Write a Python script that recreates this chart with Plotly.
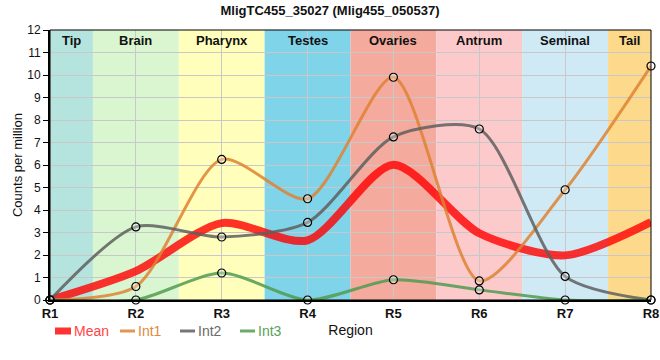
import plotly.graph_objects as go

regions = ["R1", "R2", "R3", "R4", "R5", "R6", "R7", "R8"]
tissues = ["Tip", "Brain", "Pharynx", "Testes", "Ovaries", "Antrum", "Seminal", "Tail"]
tissue_colors = ["#b5e3dd", "#d9f6d0", "#ffffbb", "#7fd4ea", "#f4aa9c", "#fdcacc", "#cfeaf5", "#fdd98b"]
int1 = [0, 0.6, 6.25, 4.5, 9.9, 0.85, 4.9, 10.4]
int2 = [0, 3.25, 2.8, 3.45, 7.25, 7.6, 1.05, 0]
int3 = [0, 0, 1.2, 0, 0.9, 0.45, 0, 0]
mean = [(a + b + c) / 3 for a, b, c in zip(int1, int2, int3)]

W, H = 660, 360
ML, MR, MT, MB = 50, 9, 30, 60
PW, PH = W - ML - MR, H - MT - MB


def px(x):
    return (x - ML) / PW


def py(y):
    return (H - MB - y) / PH


xs = list(range(1, len(regions) + 1))
fig = go.Figure()

shapes = []
for i, c in enumerate(tissue_colors):
    x0 = max(1, xs[i] - 0.5)
    x1 = min(len(xs), xs[i] + 0.5)
    shapes.append(dict(type="rect", xref="x", yref="paper", x0=x0, x1=x1, y0=0, y1=1,
                       fillcolor=c, line=dict(width=0), layer="below"))

annotations = []
for i, t in enumerate(tissues):
    x0 = max(1, xs[i] - 0.5)
    x1 = min(len(xs), xs[i] + 0.5)
    annotations.append(dict(x=(x0 + x1) / 2, y=12, xref="x", yref="y", text="<b>" + t + "</b>",
                            showarrow=False, yanchor="top", yshift=-1,
                            font=dict(size=13, color="#111", family="Liberation Sans, Arial")))

SM = 0.75
fig.add_trace(go.Scatter(x=xs, y=mean, mode="lines", name="Mean", showlegend=False,
                         line=dict(color="rgba(255,0,0,0.8)", width=8, shape="spline", smoothing=SM),
                         cliponaxis=True))
series = [("Int1", int1, "rgba(222,130,50,0.85)", "#e0893f"),
          ("Int2", int2, "rgba(95,95,95,0.85)", "#6a6a6a"),
          ("Int3", int3, "rgba(80,155,80,0.85)", "#5aa05a")]
for name, vals, col, tcol in series:
    fig.add_trace(go.Scatter(x=xs, y=vals, mode="lines", name=name, showlegend=False,
                             line=dict(color=col, width=3, shape="spline", smoothing=SM),
                             cliponaxis=True))
for name, vals, col, tcol in series:
    fig.add_trace(go.Scatter(x=xs, y=vals, mode="markers", name=name, showlegend=False,
                             marker=dict(size=8, color="rgba(255,255,255,0.3)",
                                         line=dict(color="black", width=1.2)),
                             cliponaxis=False))

# legend drawn as shapes + text below the axis
leg_y = 331
legend_items = [("Mean", "rgba(255,0,0,0.8)", "#ff4444", 7, 55, 71, 74),
                ("Int1", series[0][2], series[0][3], 3, 120, 135, 138),
                ("Int2", series[1][2], series[1][3], 3, 180, 195, 198),
                ("Int3", series[2][2], series[2][3], 3, 240, 255, 258)]
for name, col, tcol, lw, sx0, sx1, tx in legend_items:
    shapes.append(dict(type="line", xref="paper", yref="paper", x0=px(sx0), x1=px(sx1),
                       y0=py(leg_y), y1=py(leg_y), line=dict(color=col, width=lw), layer="above"))
    annotations.append(dict(x=px(tx), y=py(leg_y), xref="paper", yref="paper", text=name,
                            showarrow=False, xanchor="left", yanchor="middle", xshift=-2,
                            font=dict(size=14, color=tcol, family="Liberation Sans, Arial")))

fig.update_layout(
    width=W, height=H,
    margin=dict(l=ML, r=MR, t=MT, b=MB, autoexpand=False),
    paper_bgcolor="white", plot_bgcolor="rgba(0,0,0,0)",
    font=dict(family="Liberation Sans, Arial", size=12, color="#111"),
    title=dict(text="<b>MligTC455_35027 (Mlig455_050537)</b>", x=0.5, xanchor="center",
               y=0.985, yanchor="top", font=dict(size=13)),
    shapes=shapes + [dict(type="rect", xref="paper", yref="paper", x0=0, x1=1, y0=0, y1=1,
                          line=dict(color="black", width=1), layer="above")],
    annotations=annotations,
    showlegend=False,
    xaxis=dict(range=[1, 8], tickvals=xs, ticktext=["<b>" + r + "</b>" for r in regions],
               showgrid=True, gridcolor="#c8c8c8", gridwidth=1, showline=True, linecolor="black",
               linewidth=2, zeroline=False, ticks="", tickfont=dict(size=13), automargin=False,
               title=dict(text="Region", font=dict(size=14), standoff=6)),
    yaxis=dict(range=[0, 12], dtick=1, showgrid=True, gridcolor="#c8c8c8", gridwidth=1,
               showline=True, linecolor="black", linewidth=2, zeroline=False, ticks="outside",
               ticklen=5, tickcolor="black", tickfont=dict(size=12), automargin=False,
               title=dict(text="Counts per million", font=dict(size=13), standoff=2)),
)

fig.write_html("out.html", post_script="document.body.style.margin='0';",
               config={"displayModeBar": False})
